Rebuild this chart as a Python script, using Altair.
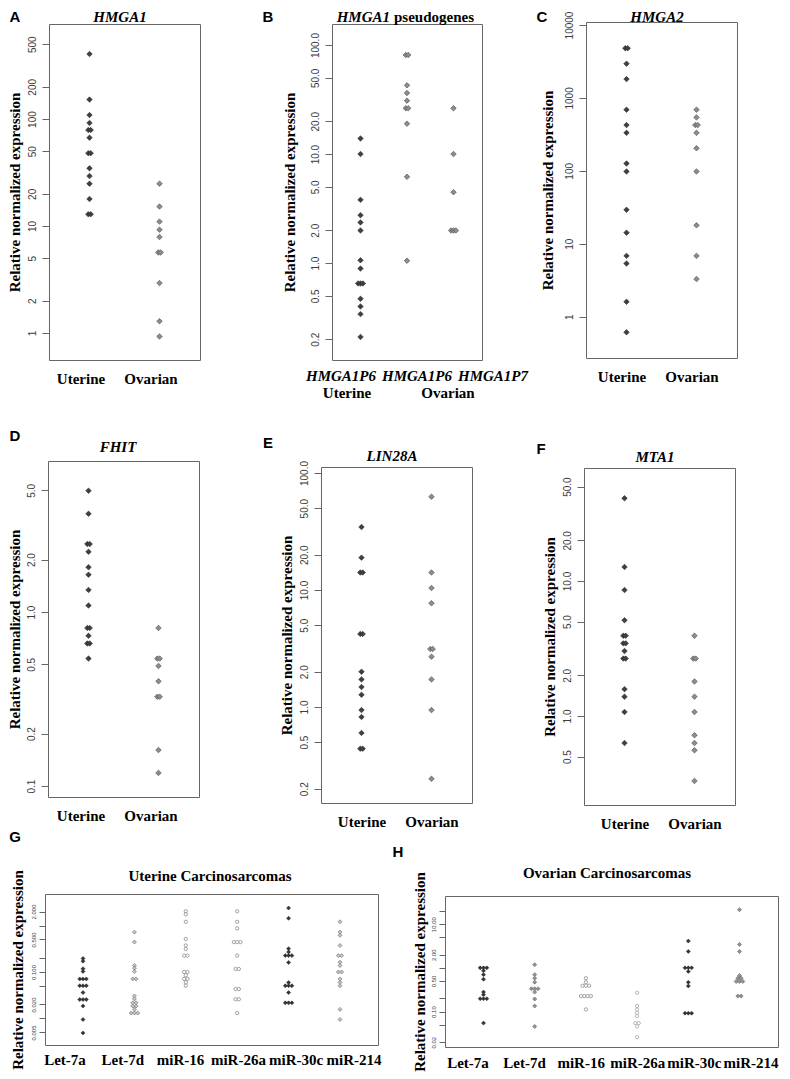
import json
import altair as alt
import pandas as pd

# ---------------- data ----------------
GROUPS = ["Uterine", "Ovarian"]

hmga1_uterine = [405, 152, 109, 92, 79, 79, 67, 48, 48, 34.6, 29.3, 24.9, 17.9, 12.9, 12.9]
hmga1_ovarian = [24.9, 15.2, 11.0, 9.25, 7.89, 5.67, 5.67, 2.93, 1.29, 0.93]

PSEUDO_CATS = ["HMGA1P6 Uterine", "HMGA1P6 Ovarian", "HMGA1P7 Ovarian"]
p6_uterine = [13.9, 10.0, 3.80, 2.75, 2.36, 1.99, 1.06, 0.89, 0.65, 0.65, 0.65, 0.47, 0.40, 0.34, 0.21]
p6_ovarian = [81, 81, 42.7, 36.3, 30.9, 26.3, 26.3, 19.0, 6.18, 1.05]
p7_ovarian = [26.3, 10.0, 4.47, 1.99, 1.99, 1.99]

hmga2_uterine = [4810, 4810, 2950, 1813, 690, 424, 332, 126, 98, 29.2, 14.2, 6.82, 5.35, 1.60, 0.61]
hmga2_ovarian = [690, 541, 424, 424, 332, 204, 98, 17.9, 6.82, 3.28]

fhit_uterine = [4.98, 3.67, 2.46, 2.46, 2.22, 1.81, 1.64, 1.34, 1.09, 0.81, 0.81, 0.73, 0.66, 0.66, 0.54]
fhit_ovarian = [0.81, 0.54, 0.54, 0.49, 0.40, 0.326, 0.326, 0.161, 0.119]

lin28a_uterine = [34.5, 18.9, 14.1, 14.1, 4.21, 4.21, 2.0, 1.72, 1.48, 1.27, 0.94, 0.82, 0.60, 0.44, 0.44]
lin28a_ovarian = [62.7, 14.1, 10.4, 7.7, 3.13, 3.13, 2.69, 1.72, 0.94, 0.243]

mta1_uterine = [41, 12.7, 8.57, 5.12, 3.93, 3.93, 3.45, 3.45, 3.03, 2.66, 2.66, 1.58, 1.39, 1.07, 0.63]
mta1_ovarian = [3.93, 2.66, 2.66, 1.80, 1.39, 1.07, 0.72, 0.63, 0.557, 0.33]

MIRNAS = ["Let-7a", "Let-7d", "miR-16", "miR-26a", "miR-30c", "miR-214"]
uc_let7a = [0.195, 0.171, 0.118, 0.103, 0.071, 0.071, 0.071, 0.0506, 0.0506, 0.0506,
            0.036, 0.0256, 0.0256, 0.0256, 0.0185, 0.0095, 0.0049]
uc_let7d = [0.72, 0.44, 0.138, 0.121, 0.103, 0.071, 0.071, 0.0306, 0.0264, 0.0217, 0.0217,
            0.0185, 0.0185, 0.0157, 0.0131, 0.0131, 0.0131]
uc_mir16 = [2.02, 1.74, 1.20, 0.515, 0.372, 0.311, 0.225, 0.225, 0.1, 0.1, 0.085, 0.071, 0.071,
            0.060, 0.0506]
uc_mir26a = [2.02, 1.20, 0.867, 0.44, 0.44, 0.44, 0.225, 0.116, 0.116, 0.043, 0.043, 0.0259,
             0.0259, 0.0131]
uc_mir30c = [2.37, 1.43, 0.317, 0.269, 0.225, 0.225, 0.225, 0.160, 0.0594, 0.0506, 0.0506,
             0.0506, 0.036, 0.0217, 0.0217, 0.0217]
uc_mir214 = [1.20, 0.725, 0.617, 0.372, 0.225, 0.225, 0.163, 0.138, 0.1, 0.1, 0.071, 0.060,
             0.0506, 0.0157, 0.0095]

oc_let7a = [1.0, 1.0, 1.0, 0.86, 0.70, 0.55, 0.279, 0.243, 0.197, 0.197, 0.197, 0.0545]
oc_let7d = [1.18, 0.70, 0.58, 0.47, 0.333, 0.333, 0.333, 0.279, 0.194, 0.134, 0.0457]
oc_mir16 = [0.58, 0.47, 0.39, 0.39, 0.39, 0.226, 0.226, 0.226, 0.226, 0.112]
oc_mir26a = [0.27, 0.134, 0.112, 0.094, 0.079, 0.0545, 0.0545, 0.0457, 0.026]
oc_mir30c = [4.1, 2.38, 1.0, 1.0, 1.0, 0.83, 0.47, 0.385, 0.092, 0.092, 0.092]
oc_mir214 = [21.4, 3.44, 2.38, 0.67, 0.58, 0.58, 0.49, 0.49, 0.49, 0.226, 0.226]

# axis tick values
ticks_hmga1 = [1, 2, 5, 10, 20, 50, 100, 200, 500]
ticks_pseudo = [0.2, 0.5, 1, 2, 5, 10, 20, 50, 100]
ticks_hmga2 = [1, 10, 100, 1000, 10000]
ticks_fhit = [0.1, 0.2, 0.5, 1, 2, 5]
ticks_lin28a = [0.2, 0.5, 1, 2, 5, 10, 20, 50, 100]
ticks_mta1 = [0.5, 1, 2, 5, 10, 20, 50]
ticks_uc = [0.005, 0.01, 0.02, 0.05, 0.1, 0.2, 0.5, 1, 2]
labels_uc = [0.005, 0.02, 0.1, 0.5, 2]
ticks_oc = [0.02, 0.05, 0.1, 0.2, 0.5, 1, 2, 5, 10, 20]
labels_oc = [0.02, 0.1, 0.5, 2, 10]

# ---------------- layout / style ----------------
WIDTH, HEIGHT = 774, 1068
M = 8  # page margin
SERIF = "Liberation Serif"
SANS = "Liberation Sans"
FRAME = "#666666"
LABC = "#3c3c3c"

BIG_DARK = dict(shape="diamond", filled=True, fill="#3f3f3f", stroke="#2b2b2b", strokeWidth=0.6, size=30, opacity=1)
BIG_GRAY = dict(shape="diamond", filled=True, fill="#8d8d8d", stroke="#585858", strokeWidth=0.7, size=30, opacity=1)
SM_DARK = dict(shape="diamond", filled=True, fill="#343434", stroke="#222222", strokeWidth=0.5, size=16, opacity=1)
SM_GRAY = dict(shape="diamond", filled=True, fill="#959595", stroke="#5c5c5c", strokeWidth=0.6, size=16, opacity=1)
SM_LIGHT = dict(shape="diamond", filled=True, fill="#c4c4c4", stroke="#6a6a6a", strokeWidth=0.6, size=16, opacity=1)
SM_OPEN = dict(shape="circle", filled=True, fill="#ffffff", stroke="#8c8c8c", strokeWidth=0.8, size=11, opacity=1)
SM_OPEN_L = dict(shape="circle", filled=True, fill="#ffffff", stroke="#a5a5a5", strokeWidth=0.8, size=11, opacity=1)


def swarm(cat, vals):
    counts = {}
    for v in vals:
        counts[v] = counts.get(v, 0) + 1
    seen, rows = {}, []
    for v in vals:
        k = seen.get(v, 0)
        seen[v] = k + 1
        rows.append({"cat": cat, "val": v, "slot": k - (counts[v] - 1) / 2})
    return pd.DataFrame(rows)


def panel(box, domain, pad, ticks, fmt, series, small, title_pad,
          label_offset=0, show_x_labels=True, shown=None):
    x0, x1, y0, y1 = box
    cats = [s[0] for s in series]
    xs = alt.Scale(type="point", domain=cats, range=[x0 - M, x1 - M], padding=pad)
    ys = alt.Scale(type="log", domain=list(domain), range=[y1 - M, y0 - M], nice=False)
    if small:
        xo = alt.Scale(type="linear", domain=[-2, 2], range=[-6.6, 6.6])
    else:
        xo = alt.Scale(type="linear", domain=[-1, 1], range=[-2.4, 2.4])
    yax = dict(orient="left", offset=-(x0 - M), values=ticks, format=fmt, grid=False,
               title="Relative normalized expression", titleFont=SERIF, titleFontSize=15,
               titleFontWeight="bold", titleColor="black", titlePadding=title_pad,
               labelFont=SANS, labelFontSize=6 if small else 10, labelColor=LABC,
               labelAngle=270, labelAlign="center", labelBaseline="bottom",
               labelPadding=3 if small else 5, labelOverlap=False, labelFlush=False,
               tickSize=6 if small else 7, tickColor=FRAME, tickWidth=1,
               domainColor=FRAME, domainWidth=1, minExtent=0)
    if shown:
        yax["labelExpr"] = "indexof(%s, datum.value) >= 0 ? datum.label : ''" % json.dumps(shown)
    xax = dict(orient="bottom", offset=(y1 - M) - HEIGHT, title=None, grid=False,
               ticks=False, tickSize=0, labels=show_x_labels, labelAngle=0,
               labelFont=SERIF, labelFontSize=15, labelFontWeight="bold",
               labelColor="black", labelPadding=11, labelOffset=label_offset,
               labelOverlap=False, domainColor=FRAME, domainWidth=1)
    out = []
    for i, (cat, vals, style) in enumerate(series):
        out.append(
            alt.Chart(swarm(cat, vals)).mark_point(**style).encode(
                x=alt.X("cat:N", scale=xs, axis=alt.Axis(**xax) if i == 0 else None),
                y=alt.Y("val:Q", scale=ys, axis=alt.Axis(**yax) if i == 0 else None),
                xOffset=alt.XOffset("slot:Q", scale=xo),
            )
        )
    # top and right edges of the box
    out.append(
        alt.Chart(swarm(series[0][0], series[0][1])).mark_point(opacity=0).encode(
            x=alt.X("cat:N", scale=xs, axis=alt.Axis(orient="top", offset=-(y0 - M), title=None,
                                                     labels=False, ticks=False, grid=False,
                                                     domainColor=FRAME, domainWidth=1)),
            y=alt.Y("val:Q", scale=ys, axis=alt.Axis(orient="right", offset=(x1 - M) - WIDTH,
                                                     title=None, labels=False, ticks=False,
                                                     grid=False, domainColor=FRAME,
                                                     domainWidth=1, minExtent=0)),
        )
    )
    return out


def text(txt, x, y, size=15, font=SERIF, weight="bold", style="normal", align="center"):
    return alt.Chart(pd.DataFrame({"t": [txt]})).mark_text(
        font=font, fontSize=size, fontWeight=weight, fontStyle=style, align=align,
        baseline="middle", color="black"
    ).encode(text="t:N", x=alt.value(x - M), y=alt.value(y - M))


def cat_labels(cats, x_first, x_last, y, style="normal", calc=None):
    base = alt.Chart(pd.DataFrame({"cat": cats}))
    base = base.transform_calculate(lab=calc if calc else "datum.cat")
    return base.mark_text(font=SERIF, fontSize=15, fontWeight="bold", fontStyle=style,
                          align="center", baseline="middle", color="black").encode(
        text="lab:N",
        x=alt.X("cat:N", scale=alt.Scale(type="point", domain=cats,
                                         range=[x_first - M, x_last - M], padding=0), axis=None),
        y=alt.value(y - M),
    )


layers = []
layers += panel((49, 200, 24, 360), (0.56, 773), 0.579, ticks_hmga1, "d",
                [("Uterine", hmga1_uterine, BIG_DARK), ("Ovarian", hmga1_ovarian, BIG_GRAY)],
                False, 4.5, label_offset=-9)
layers += panel((332, 482, 24, 360), (0.129, 156), 0.613, ticks_pseudo, ".1f",
                [(PSEUDO_CATS[0], p6_uterine, BIG_DARK), (PSEUDO_CATS[1], p6_ovarian, BIG_GRAY),
                 (PSEUDO_CATS[2], p7_ovarian, BIG_GRAY)],
                False, 12.5, show_x_labels=False)
layers += panel((586, 737, 22, 358), (0.271, 11000), 0.579, ticks_hmga2, "d",
                [("Uterine", hmga2_uterine, BIG_DARK), ("Ovarian", hmga2_ovarian, BIG_GRAY)],
                False, 8.5, label_offset=-5)
layers += panel((48, 199, 461, 797), (0.0865, 7.38), 0.579, ticks_fhit, ".1f",
                [("Uterine", fhit_uterine, BIG_DARK), ("Ovarian", fhit_ovarian, BIG_GRAY)],
                False, 3.5, label_offset=-8)
layers += panel((321, 472, 467, 803), (0.151, 112.5), 0.579, ticks_lin28a, ".1f",
                [("Uterine", lin28a_uterine, BIG_DARK), ("Ovarian", lin28a_ovarian, BIG_GRAY)],
                False, 4.5)
layers += panel((584, 735, 468, 805), (0.219, 68.7), 0.579, ticks_mta1, ".1f",
                [("Uterine", mta1_uterine, BIG_DARK), ("Ovarian", mta1_ovarian, BIG_GRAY)],
                False, 4.5)
layers += panel((45, 378, 894, 1045), (0.00269, 4.76), 0.74, ticks_uc, ".3f",
                [(MIRNAS[0], uc_let7a, SM_DARK), (MIRNAS[1], uc_let7d, SM_LIGHT),
                 (MIRNAS[2], uc_mir16, SM_OPEN), (MIRNAS[3], uc_mir26a, SM_OPEN),
                 (MIRNAS[4], uc_mir30c, SM_DARK), (MIRNAS[5], uc_mir214, SM_LIGHT)],
                True, 5, show_x_labels=False, shown=labels_uc)
layers += panel((445, 778, 896, 1047), (0.0155, 44.0), 0.752, ticks_oc, ".2f",
                [(MIRNAS[0], oc_let7a, SM_DARK), (MIRNAS[1], oc_let7d, SM_GRAY),
                 (MIRNAS[2], oc_mir16, SM_OPEN), (MIRNAS[3], oc_mir26a, SM_OPEN_L),
                 (MIRNAS[4], oc_mir30c, SM_DARK), (MIRNAS[5], oc_mir214, SM_GRAY)],
                True, 3, show_x_labels=False, shown=labels_oc)

# category labels drawn as text
layers.append(cat_labels(PSEUDO_CATS, 341, 493, 376, style="italic", calc="split(datum.cat, ' ')[0]"))
layers.append(cat_labels(GROUPS, 347, 448, 393))
layers.append(cat_labels(MIRNAS, 65, 354, 1060))
layers.append(cat_labels(MIRNAS, 468, 751, 1063))

# panel titles
layers.append(text("HMGA1", 120, 17, style="italic"))
layers.append(text("HMGA1", 390, 17, style="italic", align="right"))
layers.append(text("pseudogenes", 394, 17, align="left"))
layers.append(text("HMGA2", 657, 17, style="italic"))
layers.append(text("FHIT", 118, 447, style="italic"))
layers.append(text("LIN28A", 392, 456, style="italic"))
layers.append(text("MTA1", 655, 457, style="italic"))
layers.append(text("Uterine Carcinosarcomas", 210, 876))
layers.append(text("Ovarian Carcinosarcomas", 607, 873))

# panel letters
for letter, lx, ly in [("A", 15, 17), ("B", 268, 17), ("C", 542, 17), ("D", 15, 436),
                       ("E", 268, 443), ("F", 541, 449), ("G", 15, 837), ("H", 398, 852)]:
    layers.append(text(letter, lx, ly, size=15, font=SANS))

chart = (
    alt.layer(*layers)
    .resolve_scale(x="independent", y="independent", xOffset="independent")
    .properties(width=WIDTH, height=HEIGHT, padding=0, background="white",
                autosize=alt.AutoSizeParams(type="none"))
    .configure_view(stroke=None)
)

chart.save("out.html", embed_options={"renderer": "svg", "actions": False})
